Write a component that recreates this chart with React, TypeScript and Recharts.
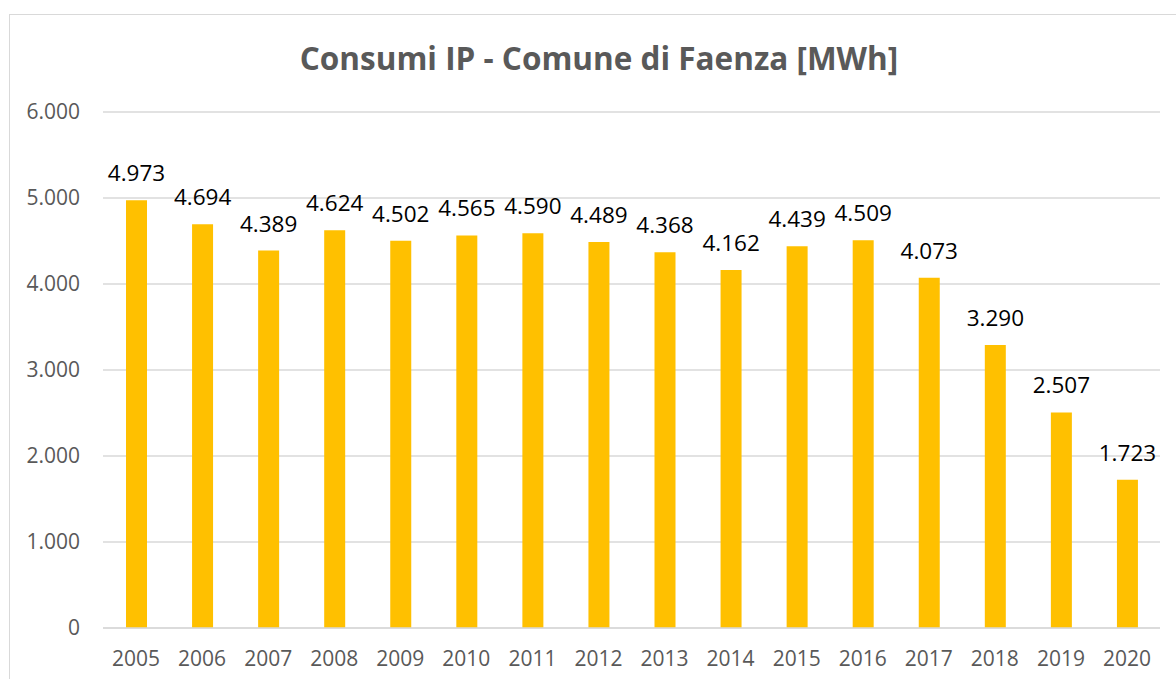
import React from "react";
import { BarChart, Bar, XAxis, YAxis, CartesianGrid, LabelList } from "recharts";

const years = ["2005","2006","2007","2008","2009","2010","2011","2012","2013","2014","2015","2016","2017","2018","2019","2020"];
const consumi = [4973,4694,4389,4624,4502,4565,4590,4489,4368,4162,4439,4509,4073,3290,2507,1723];
const yTicks = [0,1000,2000,3000,4000,5000,6000];
const title = "Consumi IP - Comune di Faenza [MWh]";

const data = years.map((y, i) => ({ year: y, value: consumi[i] }));

const fmt = (v: number) => {
  const s = Math.round(v).toString();
  return s.replace(/\B(?=(\d{3})+(?!\d))/g, ".");
};

const FONT = "'Open Sans', sans-serif";

export default function App() {
  return (
    <div style={{ position: "fixed", left: 0, top: 0, width: 1176, height: 679, overflow: "hidden", background: "#fff", fontFamily: FONT }}>
      <div style={{ position: "absolute", left: 9, top: 14, width: 2000, height: 2000, borderLeft: "1px solid #d9d9d9", borderTop: "1px solid #d9d9d9" }} />
      <div style={{ position: "absolute", left: 0, top: 40, width: 1198, textAlign: "center", fontSize: 31.5, lineHeight: "36px", fontWeight: 700, color: "#595959" }}>
        {title}
      </div>
      <div style={{ position: "absolute", left: 0, top: 0 }}>
        <BarChart width={1176} height={679} data={data} margin={{ top: 112, right: 16, left: 0, bottom: 0 }}>
          <CartesianGrid vertical={false} stroke="#d9d9d9" strokeWidth={1.5} />
          <XAxis
            dataKey="year"
            height={51}
            tickLine={false}
            tickSize={0}
            tickMargin={23}
            axisLine={{ stroke: "#d9d9d9", strokeWidth: 1.5 }}
            tick={{ fill: "#595959", fontSize: 21, fontFamily: FONT }}
            interval={0}
          />
          <YAxis
            width={103}
            domain={[0, 6000]}
            ticks={yTicks}
            tickFormatter={fmt}
            axisLine={false}
            tickLine={false}
            tickSize={0}
            tickMargin={23}
            tick={{ fill: "#595959", fontSize: 21, fontFamily: FONT }}
          />
          <Bar dataKey="value" fill="#FFC000" barSize={21} isAnimationActive={false}>
            <LabelList dataKey="value" position="top" offset={19} formatter={(v: any) => fmt(Number(v))} style={{ fill: "#000", fontSize: 22.5, fontFamily: FONT }} />
          </Bar>
        </BarChart>
      </div>
    </div>
  );
}
